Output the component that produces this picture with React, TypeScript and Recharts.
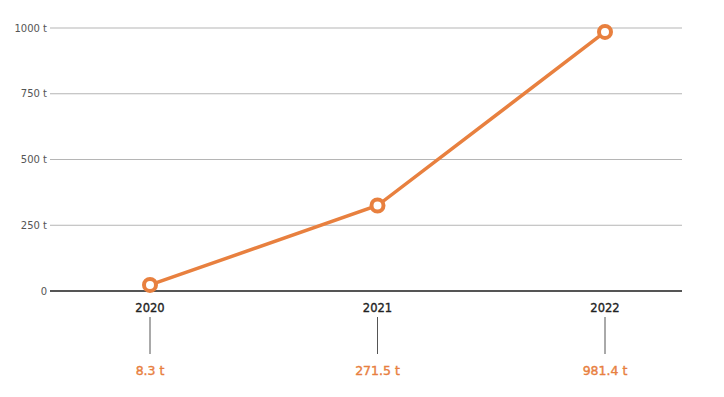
import { CartesianGrid, Line, LineChart, XAxis, YAxis } from 'recharts';

const years = ['2020', '2021', '2022'];
// where the markers sit on the plot
const plotted = [23, 325, 985];
// the figures printed under each year
const yearLabels = ['8.3 t', '271.5 t', '981.4 t'];
const yTicks = [0, 250, 500, 750, 1000];

const ORANGE = '#E8803F';
const FONT = "'DejaVu Sans', 'Noto Sans', sans-serif";

const data = years.map((year, i) => ({ year, value: plotted[i] }));

const formatYTick = (value: number) => (value === 0 ? '0' : `${value} t`);

interface YearTickProps {
  x?: number;
  y?: number;
  payload?: { value: string; index: number };
}

const YearTick = ({ x = 0, y = 0, payload }: YearTickProps) => {
  if (!payload) return null;
  const idx = years.indexOf(payload.value);
  return (
    <g transform={`translate(${x},${y})`}>
      <text
        x={0}
        y={21}
        textAnchor="middle"
        fontSize={11.5}
        fill="#222"
        stroke="#222"
        strokeWidth={0.35}
        fontFamily={FONT}
      >
        {payload.value}
      </text>
      <line x1={0} x2={0} y1={26} y2={63} stroke="#555" strokeWidth={1} />
      <text
        x={0}
        y={84}
        textAnchor="middle"
        fontSize={12.5}
        fill={ORANGE}
        stroke={ORANGE}
        strokeWidth={0.4}
        fontFamily={FONT}
      >
        {yearLabels[idx]}
      </text>
    </g>
  );
};

const App = () => {
  return (
    <div style={{ width: 716, height: 389 }}>
      <LineChart width={716} height={389} data={data} margin={{ top: 20, right: 42, left: 0, bottom: 0 }}>
        <CartesianGrid vertical={false} stroke="#b5b5b5" strokeWidth={1} />
        <XAxis
          dataKey="year"
          height={106}
          tickSize={0}
          tickMargin={0}
          padding={{ left: 100, right: 77 }}
          axisLine={{ stroke: '#555', strokeWidth: 2 }}
          tickLine={false}
          tick={<YearTick />}
          interval={0}
        />
        <YAxis
          width={42}
          domain={[0, 1000]}
          ticks={yTicks}
          tickFormatter={formatYTick}
          tickSize={0}
          tickMargin={3}
          axisLine={false}
          tickLine={false}
          tick={{ fontSize: 10, fill: '#555', fontFamily: FONT }}
        />
        <Line
          type="linear"
          dataKey="value"
          stroke={ORANGE}
          strokeWidth={3.5}
          dot={{ r: 6, fill: '#fff', stroke: ORANGE, strokeWidth: 4 }}
          activeDot={false}
          isAnimationActive={false}
        />
      </LineChart>
    </div>
  );
};

export default App;
